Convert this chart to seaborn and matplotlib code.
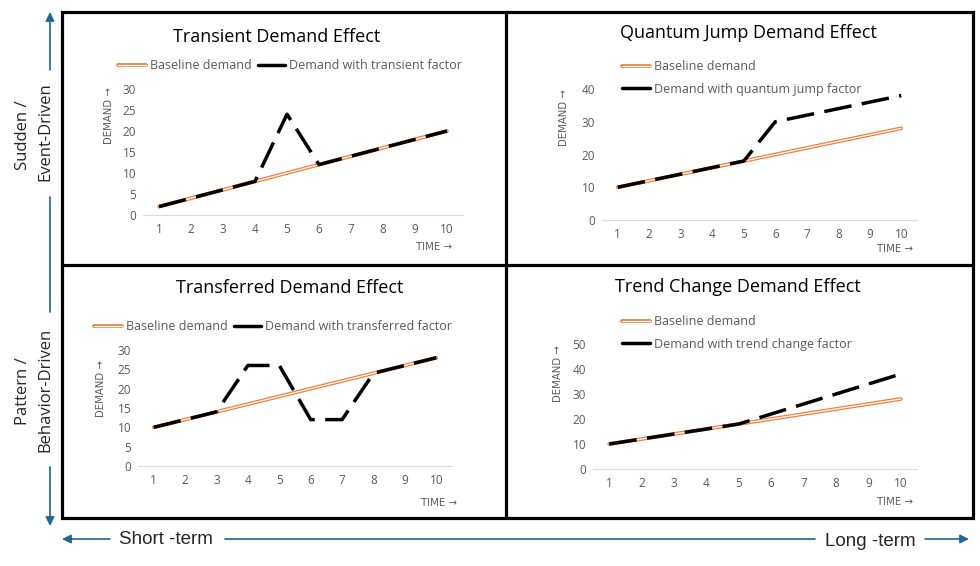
import numpy as np
import pandas as pd
import matplotlib
matplotlib.use("Agg")
import matplotlib.pyplot as plt
import matplotlib.patheffects as pe
from matplotlib.lines import Line2D
from matplotlib.patches import Rectangle
import seaborn as sns

# --- data ---
time = [1, 2, 3, 4, 5, 6, 7, 8, 9, 10]

baseline_transient = [2, 4, 6, 8, 10, 12, 14, 16, 18, 20]
transient = [2, 4, 6, 8, 24, 12, 14, 16, 18, 20]

baseline_quantum = [10, 12, 14, 16, 18, 20, 22, 24, 26, 28]
quantum = [10, 12, 14, 16, 18, 30, 32, 34, 36, 38]

baseline_transferred = [10, 12, 14, 16, 18, 20, 22, 24, 26, 28]
transferred = [10, 12, 14, 26, 26, 12, 12, 24, 26, 28]

baseline_trend = [10, 12, 14, 16, 18, 20, 22, 24, 26, 28]
trend = [10, 12, 14, 16, 18, 22, 26, 30, 34, 38]

titles = ["Transient Demand Effect", "Quantum Jump Demand Effect",
          "Transferred Demand Effect", "Trend Change Demand Effect"]
factor_labels = ["Demand with transient factor", "Demand with quantum jump factor",
                 "Demand with transferred factor", "Demand with trend change factor"]
y_ticks = [[0, 5, 10, 15, 20, 25, 30], [0, 10, 20, 30, 40],
           [0, 5, 10, 15, 20, 25, 30], [0, 10, 20, 30, 40, 50]]

sns.set_style("white")
plt.rcParams['font.family'] = ['Open Sans', 'DejaVu Sans']

ORANGE = '#F07F3C'
GREY = '#595959'
TEAL = '#1F6690'
W, H = 980, 566

# orange double line = white core with an orange stroke behind it
double_line = [pe.Stroke(linewidth=2.7, foreground=ORANGE), pe.Normal()]

fig = plt.figure(figsize=(9.8, 5.66), dpi=100)

# overlay axes in pixel coordinates for frame, arrows and free text
ax0 = fig.add_axes([0, 0, 1, 1])
ax0.set_xlim(0, W)
ax0.set_ylim(H, 0)
ax0.axis('off')


def px_axes(x0, x1, y0, y1):
    return fig.add_axes([x0 / W, 1 - y1 / H, (x1 - x0) / W, (y1 - y0) / H])


# --- frame ---
ax0.add_patch(Rectangle((62, 12), 973 - 62, 518 - 12, fill=False, lw=2.3, ec='black'))
ax0.plot([506, 506], [12, 518], color='black', lw=2.3)
ax0.plot([62, 973], [265, 265], color='black', lw=2.3)

# --- panels ---
panels = [
    dict(box=(143, 463, 89, 215), base=baseline_transient, eff=transient,
         title_xy=(277, 37), leg='row', leg_xy=(290, 66),
         demand_xy=(109, 87), time_xy=(452, 247)),
    dict(box=(602, 917, 89, 220), base=baseline_quantum, eff=quantum,
         title_xy=(748, 33), leg='col', leg_xy=(622, 78),
         demand_xy=(564, 89), time_xy=(913, 249)),
    dict(box=(138, 452, 350, 466), base=baseline_transferred, eff=transferred,
         title_xy=(290, 288), leg='row', leg_xy=(273, 327),
         demand_xy=(101, 360), time_xy=(457, 503)),
    dict(box=(593, 917, 344, 469), base=baseline_trend, eff=trend,
         title_xy=(738, 287), leg='col', leg_xy=(622, 333),
         demand_xy=(558, 345), time_xy=(913, 502)),
]

for i, p in enumerate(panels):
    ax = px_axes(*p['box'])
    df = pd.DataFrame({'time': time, 'base': p['base'], 'eff': p['eff']})

    sns.lineplot(data=df, x='time', y='base', ax=ax, color='white', lw=0.9,
                 path_effects=double_line, legend=False, zorder=2)
    sns.lineplot(data=df, x='time', y='eff', ax=ax, color='black', lw=2.5,
                 linestyle=(0, (8, 3)), legend=False, zorder=3)

    ax.set_xlim(0.5, 10.5)
    ax.set_ylim(0, y_ticks[i][-1])
    ax.set_xticks(time)
    ax.set_yticks(y_ticks[i])
    ax.set_xlabel('')
    ax.set_ylabel('')
    ax.tick_params(axis='both', length=0, labelsize=8.5, labelcolor=GREY)
    ax.tick_params(axis='x', pad=6)
    ax.tick_params(axis='y', pad=5)
    for s in ['top', 'right', 'left']:
        ax.spines[s].set_visible(False)
    ax.spines['bottom'].set_color('#D9D9D9')
    ax.spines['bottom'].set_linewidth(0.8)
    ax.set_facecolor('none')

    # title and axis captions
    ax0.text(*p['title_xy'], titles[i], ha='center', va='center', fontsize=13,
             color='black')
    ax0.text(*p['demand_xy'], 'DEMAND \u2192', rotation=90, ha='center', va='top',
             fontsize=7.3, color=GREY, family=['DejaVu Sans'])
    ax0.text(*p['time_xy'], 'TIME \u2192', ha='right', va='center',
             fontsize=7.3, color=GREY, family=['DejaVu Sans'])

    # legend
    h_base = Line2D([], [], color='white', lw=0.9, path_effects=double_line)
    h_eff = Line2D([], [], color='black', lw=2.5)
    lx, ly = p['leg_xy']
    if p['leg'] == 'row':
        fig.legend([h_base, h_eff], ['Baseline demand', factor_labels[i]],
                   loc='center', bbox_to_anchor=(lx / W, 1 - ly / H), ncol=2,
                   frameon=False, fontsize=9, labelcolor=GREY, handlelength=2.2,
                   handletextpad=0.3, columnspacing=0.5, borderpad=0, borderaxespad=0)
    else:
        fig.legend([h_base, h_eff], ['Baseline demand', factor_labels[i]],
                   loc='center left', bbox_to_anchor=(lx / W, 1 - ly / H), ncol=1,
                   frameon=False, fontsize=9, labelcolor=GREY, handlelength=2.2,
                   handletextpad=0.4, labelspacing=0.75, borderpad=0, borderaxespad=0)

# --- outer arrows ---
arrow_kw = dict(arrowstyle='-|>', color=TEAL, lw=1.2, mutation_scale=13, shrinkA=0, shrinkB=0)
ax0.annotate('', xy=(50, 12), xytext=(50, 70), arrowprops=arrow_kw)
ax0.plot([50, 50], [197, 312], color=TEAL, lw=1.2)
ax0.annotate('', xy=(50, 526), xytext=(50, 467), arrowprops=arrow_kw)
ax0.annotate('', xy=(62, 539), xytext=(110, 539), arrowprops=arrow_kw)
ax0.plot([225, 815], [539, 539], color=TEAL, lw=1.2)
ax0.annotate('', xy=(969, 539), xytext=(925, 539), arrowprops=arrow_kw)

ax0.text(23, 135, 'Sudden /', rotation=90, ha='center', va='center', fontsize=12)
ax0.text(45, 132, 'Event-Driven', rotation=90, ha='center', va='center', fontsize=12)
ax0.text(23, 391, 'Pattern /', rotation=90, ha='center', va='center', fontsize=12)
ax0.text(45, 390, 'Behavior-Driven', rotation=90, ha='center', va='center', fontsize=12)

narrow = ['Liberation Sans Narrow', 'Liberation Sans', 'DejaVu Sans']
ax0.text(166, 540, 'Short -term', ha='center', va='center', fontsize=13.5, family=narrow)
ax0.text(870, 541, 'Long -term', ha='center', va='center', fontsize=13.5, family=narrow)

fig.savefig('out.png', dpi=100)
